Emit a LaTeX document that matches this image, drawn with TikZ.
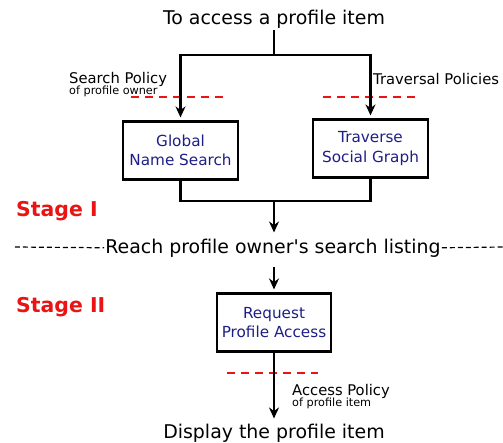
\documentclass[tikz,border=0pt]{standalone}
\usepackage{fontspec}
\setmainfont{DejaVu Sans}
\usetikzlibrary{arrows.meta}
\definecolor{boxblue}{RGB}{30,30,135}
\definecolor{stagered}{RGB}{235,20,20}
\tikzstyle{every node}=[inner sep=0pt]
\tikzstyle{block}=[draw, line width=2.4pt, minimum width=115pt, minimum height=58pt, align=center, text=boxblue, font=\fontsize{15.3}{19.5}\selectfont]
\tikzstyle{big}=[font=\fontsize{19}{21}\selectfont]
\tikzstyle{label}=[anchor=base west, font=\fontsize{14.8}{16}\selectfont]
\tikzstyle{sublabel}=[anchor=base west, font=\fontsize{11.3}{12}\selectfont]
\tikzstyle{stage}=[anchor=base west, text=stagered, font=\fontsize{20.5}{22}\selectfont\bfseries]
\tikzstyle{flow}=[line width=2.4pt, -{Stealth[length=11pt,width=10pt]}]
\tikzstyle{policy}=[stagered, line width=1.8pt, dash pattern=on 8pt off 6pt]

\begin{document}
\begin{tikzpicture}[x=1bp, y=-1bp, line width=2.4pt]
\useasboundingbox (0,0) rectangle (503,443);
% Texts
    \node[big, anchor=base] (top) at (274,25) {To access a profile item};
    \node[big, anchor=base] (reach) at (273,253) {Reach profile owner\textquotesingle s search listing};
    \node[big, anchor=base] (disp) at (274,438) {Display the profile item};
% Boxes
    \node[block] (gns) at (180.5,150.5) {Global\\Name Search};
    \node[block] (tsg) at (370.5,148.5) {Traverse\\Social Graph};
    \node[block] (rpa) at (274,322.5) {Request\\Profile Access};
% Stages
    \node[stage] (st1) at (15,217) {Stage I};
    \node[stage] (st2) at (15,312) {Stage II};
% Policies
    \node[label] (sp) at (68,84) {Search Policy};
    \node[sublabel] (spo) at (68,95) {of profile owner};
    \node[label] (tp) at (372,85) {Traversal Policies};
    \node[label] (ap) at (291,395) {Access Policy};
    \node[sublabel] (api) at (291,406) {of profile item};
    \draw[policy] (131,97) -- (223,97);
    \draw[policy] (323,97) -- (415,97);
    \draw[policy] (227,373) -- (318,373);
% Stage border
    \coordinate (bl) at (15,247);
    \coordinate (br) at (503,247);
    \draw[line width=1.2pt, dash pattern=on 5pt off 3pt] (bl) -- (reach.west);
    \draw[line width=1.2pt, dash pattern=on 5pt off 3pt] (reach.east) -- (br);
% Flow
    \coordinate (split) at (274,55);
    \coordinate (merge) at (274,201);
    \draw (top.south) -- (split);
    \draw[flow, shorten >=3pt] (split) -| (gns.north);
    \draw[flow, shorten >=3pt] (split) -| (tsg.north);
    \draw (gns.south) |- (merge) -| (tsg.south);
    \draw[flow, shorten >=5pt] (merge) -- (merge |- reach.north);
    \draw[flow, shorten <=9pt, shorten >=3pt] (rpa.north |- reach.south) -- (rpa.north);
    \draw[flow, shorten >=4pt] (rpa.south) -- (disp.north);
\end{tikzpicture}
\end{document}
